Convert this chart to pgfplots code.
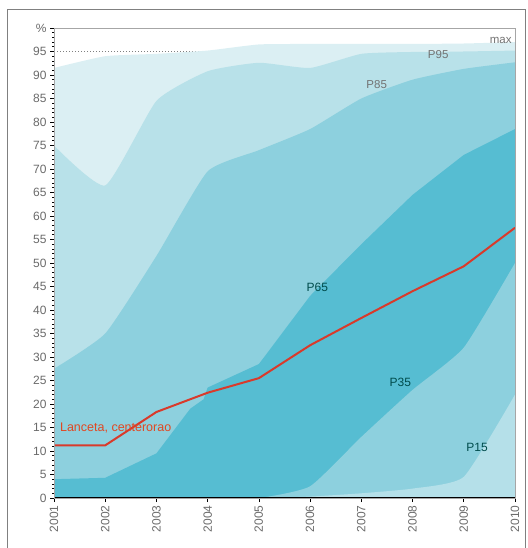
\documentclass[border=0pt]{standalone}
\usepackage{pgfplots}
\pgfplotsset{compat=1.18}
\usepackage{pgfplotstable}
\usepackage{fontspec}
\setmainfont{Liberation Sans}
\definecolor{cmax}{HTML}{DBEFF3}
\definecolor{c95}{HTML}{B8E1E9}
\definecolor{c85}{HTML}{8DD0DE}
\definecolor{c65}{HTML}{56BDD2}
\definecolor{c35}{HTML}{8DD0DE}
\definecolor{c15}{HTML}{B5E0E9}
\definecolor{redl}{HTML}{D93A2B}
\definecolor{tickgray}{HTML}{6A6A6A}
\pgfplotstableread{
year  pmax  p95   p85   p65   p35  p15  red
2001  91.5  75.0  27.5  4.0   0    0    11.2
2002  94.0  66.5  35.0  4.3   0    0    11.2
2003  94.5  84.5  51.5  9.5   0    0    18.3
2004  95.2  90.8  69.5  23.5  0    0    22.4
2005  96.5  92.6  74.0  28.5  0    0    25.5
2006  96.6  91.5  78.5  43.0  2.5  0.3  32.5
2007  96.6  94.5  85.0  54.0  13.0 1.0  38.3
2008  96.6  94.9  89.0  64.5  23.0 2.0  44.0
2009  96.7  95.0  91.3  73.0  32.0 4.5  49.3
2010  97.0  95.2  92.7  78.5  50.0 22.0 57.5
}\data
\pgfplotstableread{
year  p65
2001  4.0
2002  4.3
2003  9.5
2003.66 19.0
2003.92 21.0
2004  23.5
2005  28.5
2006  43.0
2007  54.0
2008  64.5
2009  73.0
2010  78.5
}\pcsf
\begin{document}
\begin{tikzpicture}
\begin{axis}[
  width=461pt, height=470pt, scale only axis,
  xmin=2001, xmax=2010, ymin=0, ymax=100,
  xtick={2001,...,2010},
  ytick={0,5,...,100},
  yticklabels={0,5,10,15,20,25,30,35,40,45,50,55,60,65,70,75,80,85,90,95,\%},
  minor y tick num=4,
  minor tick length=2pt,
  major tick length=4pt,
  tick align=outside,
  xtick pos=bottom, ytick pos=left,
  /pgf/number format/assume math mode=true,
  /pgf/number format/set thousands separator={},
  x tick label style={rotate=90, anchor=east, font=\fontsize{12}{14}\selectfont, text=tickgray},
  y tick label style={font=\fontsize{12}{14}\selectfont, text=tickgray},
  axis line style={draw=gray!70, line width=0.8pt},
  tick style={black, line width=0.6pt},
  axis on top,
  clip=true,
]
\addplot[draw=gray, dotted, line width=1pt] coordinates {(2001,95) (2010,95)};
\addplot[fill=cmax, draw=none, smooth, tension=0.3] table[x=year, y=pmax] {\data} \closedcycle;
\addplot[fill=c95, draw=none, smooth, tension=0.3] table[x=year, y=p95] {\data} \closedcycle;
\addplot[fill=c85, draw=none, smooth, tension=0.3] table[x=year, y=p85] {\data} \closedcycle;
\addplot[fill=c65, draw=none] table[x=year, y=p65] {\pcsf} \closedcycle;
\addplot[fill=c35, draw=none, smooth, tension=0.3] table[x=year, y=p35] {\data} \closedcycle;
\addplot[fill=c15, draw=none, smooth, tension=0.3] table[x=year, y=p15] {\data} \closedcycle;
\addplot[draw=redl, line width=2pt] table[x=year, y=red] {\data};
\draw[black, line width=2pt] (rel axis cs:0,1) -- (rel axis cs:0,0) -- (rel axis cs:1,0);
\node[text=redl!80!orange, anchor=west, font=\fontsize{12.5}{14}\selectfont] at (axis cs:2001.05,15) {Lanceta, centerorao};
\node[text=gray!90!black, font=\fontsize{11.5}{13}\selectfont] at (axis cs:2009.72,97.3) {max};
\node[text=gray!90!black, font=\fontsize{11.5}{13}\selectfont] at (axis cs:2008.5,94.3) {P95};
\node[text=gray!90!black, font=\fontsize{11.5}{13}\selectfont] at (axis cs:2007.3,88.0) {P85};
\node[text=teal!60!black, font=\fontsize{12}{14}\selectfont] at (axis cs:2006.14,44.8) {P65};
\node[text=teal!60!black, font=\fontsize{12}{14}\selectfont] at (axis cs:2007.76,24.5) {P35};
\node[text=teal!60!black, font=\fontsize{12}{14}\selectfont] at (axis cs:2009.26,10.7) {P15};
\coordinate (sw) at (rel axis cs:0,0);
\coordinate (ne) at (rel axis cs:1,1);
\end{axis}
\draw[gray, line width=1pt] ([xshift=-46pt]sw |- 0,-60pt) -- ([xshift=-46pt,yshift=18pt]sw |- ne) -- ([xshift=10pt,yshift=18pt]ne) -- ([xshift=10pt]ne |- 0,-60pt);
\pgfresetboundingbox
\path[use as bounding box] ([xshift=-54pt,yshift=-50pt]sw) rectangle ([xshift=12pt,yshift=28pt]ne);
\end{tikzpicture}
\end{document}
